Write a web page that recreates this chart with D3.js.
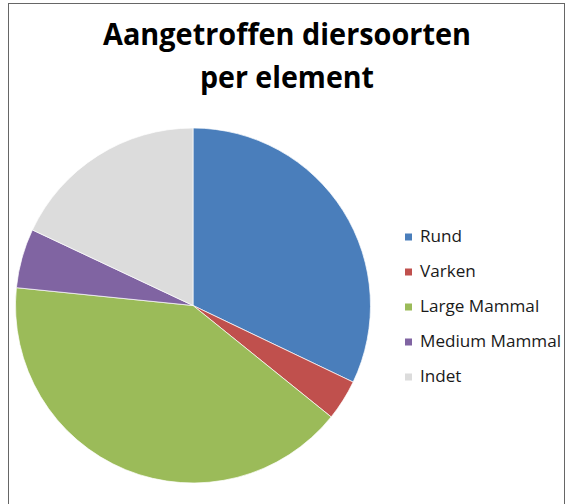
<!DOCTYPE html>
<meta charset="utf-8">
<style>
  body { margin: 0; background: #fff; }
  svg { display: block; }
</style>
<script src="https://d3js.org/d3.v7.min.js"></script>
<div id="chart"></div>
<script>

// data (shares in percent)
var categories = ["Rund", "Varken", "Large Mammal", "Medium Mammal", "Indet"];
var values = [32.1, 3.7, 40.8, 5.4, 18.0];
var colors = ["#4a7ebb", "#c0504d", "#9bbb59", "#8064a2", "#dcdcdc"];
var titleLines = ["Aangetroffen diersoorten", "per element"];

var width = 568, height = 504;

var svg = d3.select("#chart")
  .append("svg")
    .attr("width", width)
    .attr("height", height);

// chart frame
svg.append("rect")
  .attr("x", 8.5)
  .attr("y", 3.5)
  .attr("width", 556)
  .attr("height", 520)
  .attr("fill", "#fff")
  .attr("stroke", "#666")
  .attr("stroke-width", 1);

// title
var titleWidths = [368, 174];
svg.append("g")
  .selectAll("text")
  .data(titleLines)
  .enter()
  .append("text")
    .attr("x", 287)
    .attr("y", function(d, i) { return 45 + i * 43; })
    .attr("text-anchor", "middle")
    .attr("font-family", "Open Sans, sans-serif")
    .attr("font-weight", "bold")
    .attr("font-size", 31)
    .attr("fill", "#000")
    .attr("textLength", function(d, i) { return titleWidths[i]; })
    .attr("lengthAdjust", "spacingAndGlyphs")
    .text(function(d) { return d; });

// pie
var radius = 177.5;
var pie = d3.pie().sort(null).value(function(d) { return d; });
var arc = d3.arc().innerRadius(0).outerRadius(radius);
var color = d3.scaleOrdinal().domain(categories).range(colors);

var g = svg.append("g")
  .attr("transform", "translate(193,305.5)");

g.selectAll("path")
  .data(pie(values))
  .enter()
  .append("path")
    .attr("d", arc)
    .attr("fill", function(d, i) { return color(categories[i]); })
    .attr("stroke", "#fff")
    .attr("stroke-width", 0.7);

// legend
var legend = svg.append("g")
  .attr("transform", "translate(405,242)");

var row = legend.selectAll("g")
  .data(categories)
  .enter()
  .append("g")
    .attr("transform", function(d, i) { return "translate(0," + (i * 35) + ")"; });

row.append("rect")
  .attr("x", 0)
  .attr("y", -8.5)
  .attr("width", 7)
  .attr("height", 7)
  .attr("fill", function(d) { return color(d); });

var labels = row.append("text")
  .attr("x", 15)
  .attr("y", 0)
  .attr("font-family", "Open Sans, sans-serif")
  .attr("font-size", 16)
  .attr("fill", "#1a1a1a")
  .text(function(d) { return d; });

// stretch the labels a little, the original font is narrower but wider set
var longest = labels.filter(function(d) { return d == "Medium Mammal"; }).node().getComputedTextLength();
var k = 141 / longest;
labels.each(function() {
  var w = this.getComputedTextLength();
  d3.select(this).attr("textLength", w * k).attr("lengthAdjust", "spacingAndGlyphs");
});

</script>
